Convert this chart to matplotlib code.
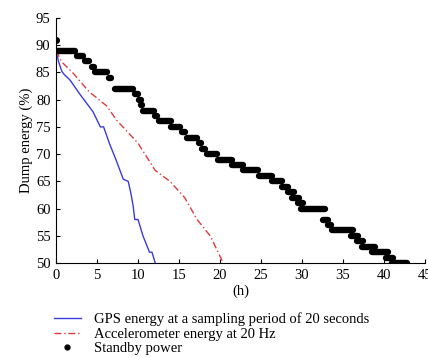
import matplotlib
matplotlib.use('Agg')
import matplotlib.pyplot as plt
from matplotlib.lines import Line2D

# --- data ---
gps_h = [0, 0.3, 0.7, 1.0, 1.7, 3.0, 4.5, 5.4, 5.8, 6.5, 7.3, 8.2, 8.8, 9.1, 9.4, 9.6, 10.0, 10.2, 10.6, 11.0, 11.4, 11.7, 12.1]
gps_y = [89, 87, 85.2, 84.6, 83.6, 80.8, 77.8, 75, 75, 72, 69, 65.4, 65, 63, 60.5, 58, 58, 57, 55, 53.5, 52, 52, 50]

acc_h = [0, 0.7, 2.0, 4.0, 6.2, 7.4, 10.0, 12.1, 13.9, 15.7, 17.2, 18.8, 20.4]
acc_y = [89, 86.9, 85, 81.5, 78.8, 76.2, 72, 67, 65, 62, 58, 55, 50]

# standby power: plateaus (start h, end h, level %)
sb_start = [0, 2.5, 3.5, 4.4, 4.8, 6.4, 6.9, 7.2, 9.6, 10.1, 10.4, 10.6, 12.1, 12.5, 14.0, 15.3, 16.0, 17.4, 17.8, 18.4, 19.8, 21.5, 22.8, 24.7, 26.3, 27.6, 28.3, 28.8, 29.5, 29.9, 32.6, 33.2, 33.6, 36.0, 36.7, 37.3, 38.5, 40.3, 41.0]
sb_end = [2.3, 3.3, 4.0, 4.6, 6.2, 6.7, 7.0, 9.4, 10.0, 10.3, 10.5, 11.9, 12.3, 14.0, 15.1, 15.7, 17.2, 17.7, 18.2, 19.6, 21.5, 22.8, 24.6, 26.3, 27.6, 28.3, 29.0, 29.6, 30.1, 32.8, 33.2, 33.5, 36.2, 36.8, 37.4, 38.9, 40.5, 41.1, 42.8]
sb_y = [89, 88, 87, 86, 85, 84, 83, 82, 81, 80, 79, 78, 77, 76, 75, 74, 73, 72, 71, 70, 69, 68, 67, 66, 65, 64, 63, 62, 61, 60, 58, 57, 56, 55, 54, 53, 52, 51, 50]
sb_first_h = [0]
sb_first_y = [91]

plt.rcParams['font.family'] = ['Liberation Serif', 'DejaVu Serif']
plt.rcParams['font.size'] = 10.5

fig = plt.figure(figsize=(4.28, 3.58), dpi=100)
ax = fig.add_axes([0.131, 0.265, 0.862, 0.685])

ax.hlines(sb_y, sb_start, sb_end, color='black', lw=4.6, capstyle='round', zorder=3)
ax.plot(sb_first_h, sb_first_y, 'o', color='black', ms=4, zorder=3)
ax.plot(gps_h, gps_y, color='#3a3adf', lw=1.0)
ax.plot(acc_h, acc_y, color='#e03a3a', lw=1.0, ls=(0, (5, 2, 1, 2)))

ax.set_xlim(0, 45)
ax.set_ylim(50, 95)
ax.set_xticks(range(0, 46, 5))
ax.set_yticks(range(50, 96, 5))
ax.tick_params(direction='in', length=3, width=0.8, pad=4)
for s in ['top', 'right']:
    ax.spines[s].set_visible(False)
ax.set_xlabel('(h)', labelpad=2)
ax.set_ylabel('Dump energy (%)', labelpad=2)

handles = [Line2D([], [], color='#3a3adf', lw=1.0),
           Line2D([], [], color='#e03a3a', lw=1.0, ls=(0, (5, 2, 1, 2))),
           Line2D([], [], color='black', marker='o', ls='none', ms=3.5)]
labels = ['GPS energy at a sampling period of 20 seconds',
          'Accelerometer energy at 20 Hz',
          'Standby power']
fig.legend(handles, labels, loc='upper left', bbox_to_anchor=(0.127, 0.127),
           frameon=False, handlelength=1.8, labelspacing=0.08, borderaxespad=0,
           borderpad=0, handletextpad=0.9)

fig.savefig('out.png', dpi=100)
